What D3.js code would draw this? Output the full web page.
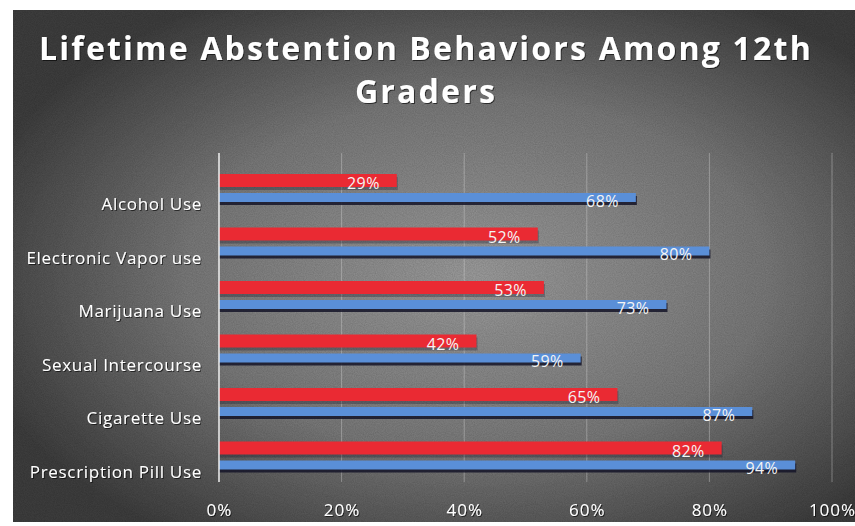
<!DOCTYPE html>
<html><head><meta charset="utf-8">
<script src="https://cdn.jsdelivr.net/npm/d3@7"></script>
<style>
html,body{margin:0;padding:0;background:#fff;}
svg{display:block;}
</style></head>
<body>
<svg id="chart" width="855" height="526"></svg>
<script>
const categories = ["Alcohol Use","Electronic Vapor use","Marijuana Use","Sexual Intercourse","Cigarette Use","Prescription Pill Use"];
const seriesNames = ["Series 1","Series 2"];
const series1 = [29,52,53,42,65,82];
const series2 = [68,80,73,59,87,94];
const xTicks = [0,20,40,60,80,100];
const titleLines = ["Lifetime Abstention Behaviors Among 12th","Graders"];

const svg = d3.select("#chart");
const W = 855, H = 526;
const defs = svg.append("defs");
const rg = defs.append("radialGradient").attr("id","bg").attr("cx","0.55").attr("cy","0.52").attr("r","0.62");
rg.append("stop").attr("offset","0").attr("stop-color","#9e9e9e");
rg.append("stop").attr("offset","0.55").attr("stop-color","#7c7c7c");
rg.append("stop").attr("offset","1").attr("stop-color","#404040");
const f = defs.append("filter").attr("id","noise").attr("x","0").attr("y","0").attr("width","1").attr("height","1");
f.append("feTurbulence").attr("type","fractalNoise").attr("baseFrequency","0.9").attr("numOctaves","2").attr("seed","3").attr("result","n");
f.append("feColorMatrix").attr("in","n").attr("type","matrix").attr("values","0 0 0 0 0  0 0 0 0 0  0 0 0 0 0  0 0 0 0.35 0").attr("result","na");
f.append("feComposite").attr("in","na").attr("in2","SourceGraphic").attr("operator","in").attr("result","nc");
f.append("feMerge").selectAll("feMergeNode").data(["SourceGraphic","nc"]).join("feMergeNode").attr("in",d=>d);
const ts = defs.append("filter").attr("id","tshadow");
ts.append("feDropShadow").attr("dx","1").attr("dy","1").attr("stdDeviation","0.6").attr("flood-color","#000").attr("flood-opacity","0.6");

svg.append("rect").attr("x",13).attr("y",10).attr("width",W-13).attr("height",512).attr("fill","url(#bg)").attr("filter","url(#noise)");

const x = d3.scaleLinear().domain([0,100]).range([219,832]);
const y = d3.scaleBand().domain(categories).range([163,484]);
const yi = d3.scaleBand().domain(seriesNames).range([11,43]).paddingInner(0.316);
const colors = {"Series 1":"#ea2a33","Series 2":"#5a8fd8"};
const barH = s => s===seriesNames[1] ? yi.bandwidth()-4 : yi.bandwidth();

// gridlines
svg.append("g").selectAll("line").data(xTicks.slice(1)).join("line")
  .attr("x1",d=>x(d)).attr("x2",d=>x(d)).attr("y1",153).attr("y2",482)
  .attr("stroke","#d8d8d8").attr("stroke-opacity",0.4).attr("stroke-width",1);

// title
svg.append("g").selectAll("text").data(titleLines).join("text")
  .attr("x",426).attr("y",(d,i)=>60+i*43)
  .attr("text-anchor","middle").attr("fill","#fff")
  .attr("font-family","'Open Sans',sans-serif").attr("font-weight","bold")
  .attr("font-size",32).attr("letter-spacing",2.2)
  .attr("filter","url(#tshadow)")
  .text(d=>d);

const data = categories.map((c,i)=>({cat:c, vals:[{s:seriesNames[0],v:series1[i]},{s:seriesNames[1],v:series2[i]}]}));
const groups = svg.append("g").selectAll("g").data(data).join("g")
  .attr("transform",d=>`translate(0,${y(d.cat)})`);
// shadows
groups.selectAll("rect.sh").data(d=>d.vals).join("rect").attr("class","sh")
  .attr("x",x(0)).attr("y",d=>yi(d.s)+3).attr("width",d=>x(d.v)-x(0)+1).attr("height",d=>barH(d.s))
  .attr("fill","#141428").attr("opacity",d=>d.s===seriesNames[1]?0.85:0.3);
groups.selectAll("rect.bar").data(d=>d.vals).join("rect").attr("class","bar")
  .attr("x",x(0)).attr("y",d=>yi(d.s)).attr("width",d=>x(d.v)-x(0)).attr("height",d=>barH(d.s))
  .attr("fill",d=>colors[d.s]);
groups.selectAll("text.val").data(d=>d.vals).join("text").attr("class","val")
  .attr("x",d=>x(d.v)-17).attr("y",d=>yi(d.s)+barH(d.s)/2+9)
  .attr("text-anchor","end").attr("fill","#f4f4f4")
  .attr("font-family","'Open Sans',sans-serif").attr("font-size",16).attr("letter-spacing",0.4)
  .text(d=>d.v+"%");

// y axis
const yAxis = svg.append("g").attr("transform",`translate(${x(0)},0)`)
  .call(d3.axisLeft(y).tickSize(0).tickPadding(17));
yAxis.select(".domain").attr("stroke","#f0f0f0").attr("stroke-width",1.5).attr("d","M0,153V482");
yAxis.selectAll("text").attr("fill","#fff").attr("font-family","'Open Sans',sans-serif")
  .attr("font-size",17).attr("letter-spacing",0.7).attr("dy","0.32em").attr("transform","translate(0,15)").attr("filter","url(#tshadow)");

// x axis
const xAxis = svg.append("g").attr("transform","translate(0,501)")
  .call(d3.axisBottom(x).tickValues(xTicks).tickFormat(d=>d+"%").tickSize(0).tickPadding(0));
xAxis.select(".domain").remove();
xAxis.selectAll("text").attr("fill","#fff").attr("font-family","'Open Sans',sans-serif")
  .attr("font-size",17).attr("letter-spacing",1).attr("dy","0.9em").attr("filter","url(#tshadow)");
</script>
</body></html>
